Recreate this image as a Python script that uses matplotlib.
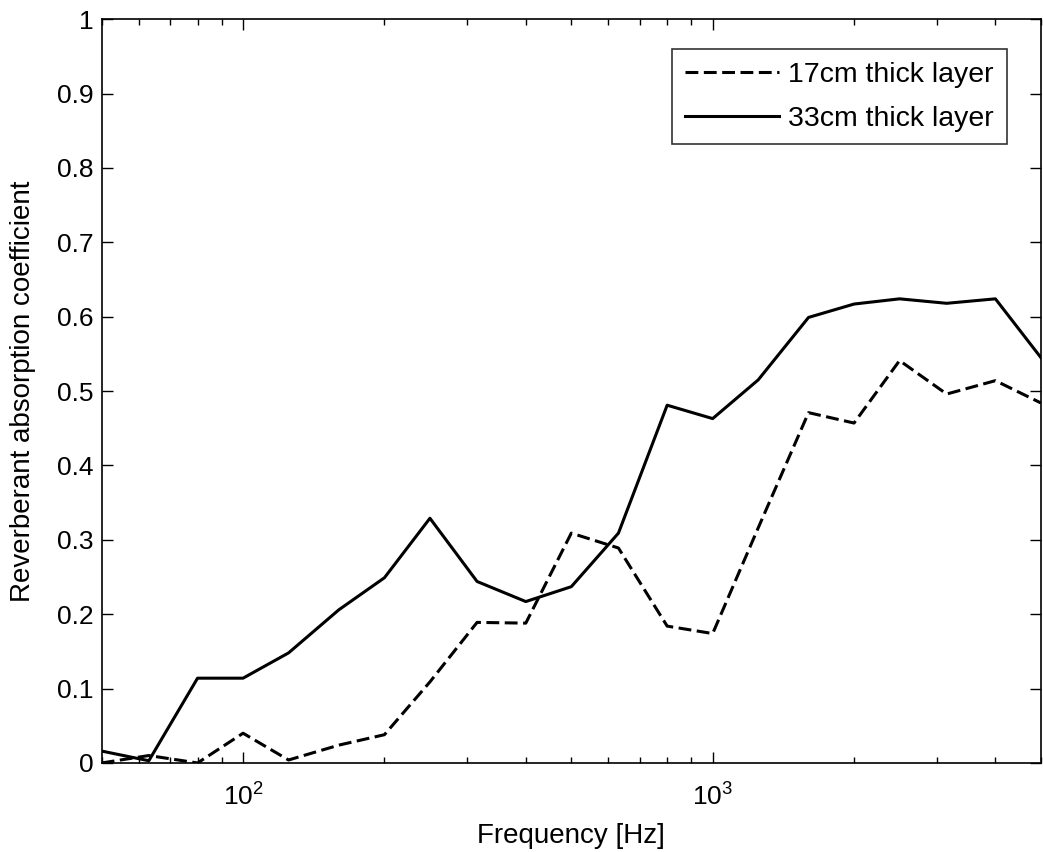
import matplotlib
matplotlib.use("Agg")
import matplotlib.pyplot as plt
from matplotlib.ticker import LogLocator

plt.rcParams['font.family'] = ['Liberation Sans', 'DejaVu Sans']
plt.rcParams['mathtext.fontset'] = 'custom'
plt.rcParams['mathtext.rm'] = 'Liberation Sans'

freq = [50, 63, 80, 100, 125, 160, 200, 250, 315, 400, 500, 630, 800,
        1000, 1250, 1600, 2000, 2500, 3150, 4000, 5000]
alpha_17cm = [0.0, 0.01, 0.0, 0.04, 0.004, 0.024, 0.038, 0.109, 0.189, 0.188,
              0.309, 0.289, 0.184, 0.174, 0.316, 0.471, 0.457, 0.541, 0.496,
              0.514, 0.484]
alpha_33cm = [0.016, 0.003, 0.114, 0.114, 0.148, 0.206, 0.249, 0.329, 0.244,
              0.217, 0.237, 0.309, 0.481, 0.463, 0.515, 0.599, 0.617, 0.624,
              0.618, 0.624, 0.545]
series_labels = ['17cm thick layer', '33cm thick layer']
y_ticks = [0, 0.1, 0.2, 0.3, 0.4, 0.5, 0.6, 0.7, 0.8, 0.9, 1]
y_tick_labels = ['0', '0.1', '0.2', '0.3', '0.4', '0.5', '0.6', '0.7', '0.8', '0.9', '1']

fig = plt.figure(figsize=(10.43, 8.52), dpi=100)
ax = fig.add_axes([0.0975, 0.1045, 0.9005, 0.873])

ax.plot(freq, alpha_17cm, color='black', lw=2.2, linestyle=(0, (4.2, 1.8)),
        label=series_labels[0])
ax.plot(freq, alpha_33cm, color='black', lw=2.2, linestyle='-',
        label=series_labels[1])

ax.set_xscale('log')
ax.set_xlim(50, 5000)
ax.set_ylim(0, 1)
ax.set_yticks(y_ticks)
ax.set_yticklabels(y_tick_labels)
ax.xaxis.set_major_locator(LogLocator(base=10, numticks=10))
ax.xaxis.set_minor_locator(LogLocator(base=10, subs=range(2, 10), numticks=20))

ax.tick_params(axis='both', which='major', direction='in', length=8, width=1,
               top=True, right=True, labelsize=19, colors='black')
ax.tick_params(axis='y', which='major', pad=6)
ax.tick_params(axis='x', which='major', pad=15)
ax.tick_params(axis='x', which='minor', direction='in', length=4, width=1,
               top=True, bottom=True)
for sp in ax.spines.values():
    sp.set_linewidth(1.2)
    sp.set_color('black')

ax.set_xlabel('Frequency [Hz]', fontsize=20, labelpad=9)
ax.set_ylabel('Reverberant absorption coefficient', fontsize=20, labelpad=15)

leg = ax.legend(loc='upper right', bbox_to_anchor=(0.9638, 0.9597), fontsize=20.5,
                frameon=True, fancybox=False, edgecolor='black',
                handlelength=3.3, handletextpad=0.35, borderpad=0.45,
                labelspacing=0.62, borderaxespad=0)
leg.get_frame().set_linewidth(1.2)

fig.savefig('out.png', dpi=100)
